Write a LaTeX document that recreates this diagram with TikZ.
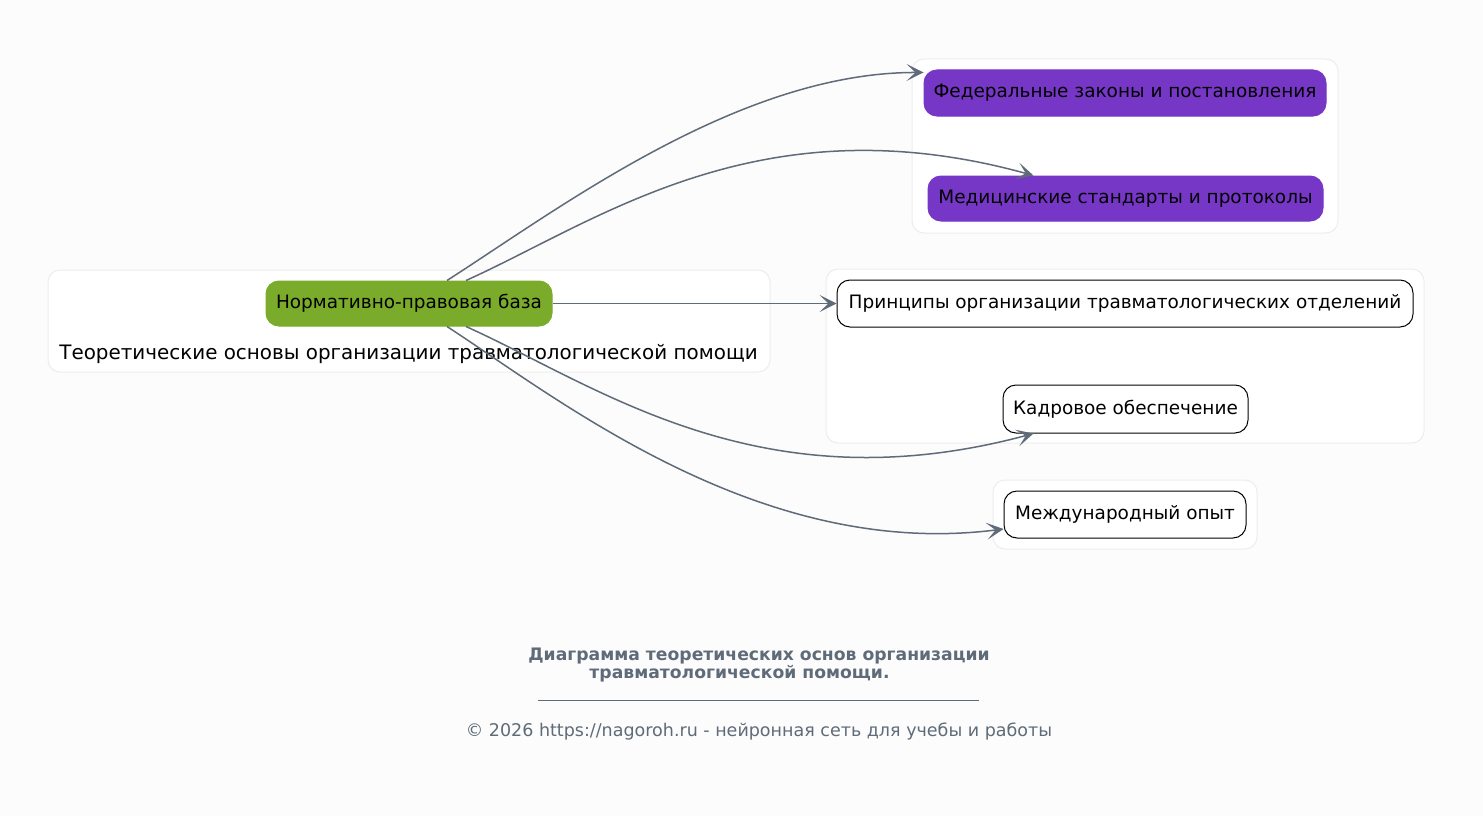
\documentclass[tikz,border=0pt]{standalone}
\usepackage{fontspec}
\setmainfont{DejaVu Sans}
\usetikzlibrary{arrows.meta,positioning,calc}
\definecolor{bgc}{HTML}{FCFCFC}
\definecolor{clb}{HTML}{EDEDED}
\definecolor{edg}{HTML}{5F6B78}
\definecolor{grn}{HTML}{7AAB2A}
\definecolor{prp}{HTML}{7737C6}
\tikzset{
  x=1pt, y=-1pt,
  cluster/.style={draw=clb, fill=white, rounded corners=12pt, line width=1pt},
  box/.style={rectangle, rounded corners=13pt, inner sep=0pt, font=\fontsize{18.45}{22}\selectfont, text=black, line width=1pt},
  greenbox/.style={box, fill=grn, draw=grn},
  purplebox/.style={box, fill=prp, draw=prp},
  whitebox/.style={box, fill=white, draw=black},
  conn/.style={draw=edg, line width=1.5pt, -{Stealth[length=17pt, width=17pt, inset=9pt]}},
  lbl/.style={font=\fontsize{19.9}{22}\selectfont, text=black, inner sep=0pt},
  ttl/.style={font=\fontsize{17.2}{20}\selectfont\bfseries, text=edg, inner sep=0pt},
  ftr/.style={font=\fontsize{17.5}{20}\selectfont, text=edg, inner sep=0pt}
}
\begin{document}
\begin{tikzpicture}
\fill[bgc] (0,0) rectangle (1483,816);
\useasboundingbox (0,0) rectangle (1483,816);
% clusters
\draw[cluster] (48,270) rectangle (770,372);
\draw[cluster] (912,59) rectangle (1338,233);
\draw[cluster] (826,269) rectangle (1424,443);
\draw[cluster] (993,480) rectangle (1257,549);
\node[lbl] (clab) at (408.5,354) {Теоретические основы организации травматологической помощи};
% nodes
\node[greenbox, minimum width=286pt, minimum height=45pt] (base) at (409,303.5) {Нормативно-правовая база};
\node[purplebox, minimum width=402pt, minimum height=46pt] (fed) at (1125,93) {Федеральные законы и постановления};
\node[purplebox, minimum width=395pt, minimum height=45pt] (med) at (1125.5,198.5) {Медицинские стандарты и протоколы};
\node[whitebox, minimum width=576pt, minimum height=47pt] (pri) at (1125,303.5) {Принципы организации травматологических отделений};
\node[whitebox, minimum width=245pt, minimum height=48pt] (kad) at (1125.5,409) {Кадровое обеспечение};
\node[whitebox, minimum width=242pt, minimum height=47pt] (mez) at (1125,514.5) {Международный опыт};
% edges
\draw[conn] ([xshift=38pt]base.north) .. controls (560,208) and (740,72) .. ([yshift=-3pt]fed.north west);
\draw[conn] ([xshift=57pt]base.north) .. controls (600,220) and (760,100) .. ([xshift=-92pt]med.north);
\draw[conn] (base.east) -- (pri.west);
\draw[conn] ([xshift=57pt]base.south) .. controls (600,387) and (760,507) .. ([xshift=-92pt]kad.south);
\draw[conn] ([xshift=38pt]base.south) .. controls (560,400) and (760,560) .. ([yshift=-14.5pt]mez.west);
% title and footer
\node[ttl] (t1) at (759,656) {Диаграмма теоретических основ организации};
\node[ttl] (t2) at (739.5,674) {травматологической помощи.};
\coordinate (r1) at (538,700);
\coordinate (r2) at (979,700);
\draw[edg, line width=0.8pt] (r1) -- (r2);
\node[ftr] (foot) at (759,732) {© 2026 https://nagoroh.ru - нейронная сеть для учебы и работы};
\end{tikzpicture}
\end{document}
